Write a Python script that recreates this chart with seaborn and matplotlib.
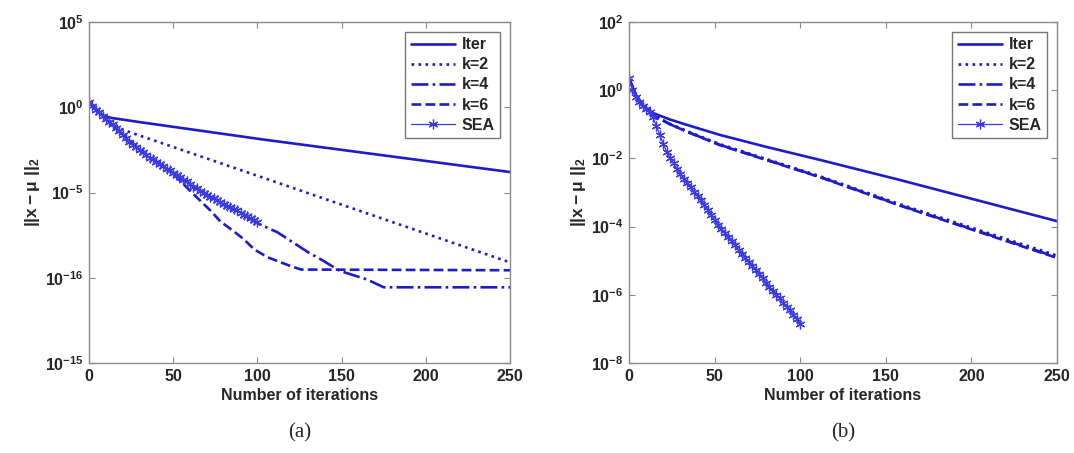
import numpy as np
import matplotlib
matplotlib.use("Agg")
import matplotlib.pyplot as plt
import seaborn as sns

# ---- data (log10 of ||x - mu||_2) ----
# panel (a)
a_iter_x = [0, 3, 6, 9, 13, 30, 104, 250]
a_iter_y = [0.30, 0.0, -0.3, -0.5, -0.62, -0.87, -1.9, -3.8]

a_k2_x = [0, 4, 8, 12, 20, 103, 250]
a_k2_y = [0.30, -0.15, -0.5, -0.8, -1.32, -4.12, -9.1]

a_k4_x = [0, 10, 20, 30, 40, 50, 60, 70, 80, 90, 100, 112, 130, 139, 149, 165, 175, 250]
a_k4_y = [0.30, -0.68, -1.6, -2.5, -3.2, -3.85, -4.5, -5.15, -5.7, -6.2, -6.8,
          -7.34, -8.5, -9.0, -9.6, -10.1, -10.56, -10.56]

a_k6_x = [0, 10, 20, 30, 40, 48, 52, 61, 72, 78, 86, 92, 98, 106, 114, 120, 126, 250]
a_k6_y = [0.30, -0.68, -1.6, -2.5, -3.2, -3.75, -4.1, -5.0, -6.05, -6.7, -7.28,
          -7.75, -8.33, -8.8, -9.1, -9.33, -9.52, -9.56]

a_sea_x = list(range(0, 101, 2))
a_sea_y = [0.30, 0.05, -0.15, -0.30, -0.50, -0.68, -0.85, -1.00, -1.20, -1.40,
           -1.60, -1.80, -2.05, -2.20, -2.35, -2.50, -2.65, -2.80, -2.95, -3.05,
           -3.20, -3.30, -3.45, -3.60, -3.70, -3.85, -3.95, -4.10, -4.25, -4.35,
           -4.50, -4.65, -4.75, -4.90, -5.05, -5.15, -5.25, -5.35, -5.45, -5.55,
           -5.70, -5.80, -5.85, -5.95, -6.05, -6.20, -6.30, -6.40, -6.50, -6.60,
           -6.75]

# panel (b)
b_iter_x = [0, 4, 8, 14, 24, 34, 53, 80, 112, 158, 250]
b_iter_y = [0.35, -0.15, -0.45, -0.67, -0.86, -1.02, -1.31, -1.66, -2.05, -2.63, -3.84]

b_k2_x = [0, 4, 8, 14, 24, 34, 53, 112, 158, 250]
b_k2_y = [0.35, -0.15, -0.45, -0.73, -0.99, -1.20, -1.58, -2.53, -3.34, -4.85]

b_k4_x = [0, 4, 8, 14, 24, 34, 53, 112, 158, 250]
b_k4_y = [0.35, -0.15, -0.45, -0.73, -1.00, -1.22, -1.60, -2.55, -3.37, -4.90]

b_k6_x = [0, 4, 8, 14, 24, 34, 53, 112, 158, 250]
b_k6_y = [0.35, -0.15, -0.45, -0.73, -1.00, -1.22, -1.61, -2.56, -3.38, -4.92]

b_sea_x = list(range(0, 101, 2))
b_sea_y = [0.35, 0.00, -0.20, -0.35, -0.45, -0.55, -0.65, -0.80, -1.05, -1.32,
           -1.58, -1.80, -1.98, -2.14, -2.30, -2.45, -2.60, -2.72, -2.85, -2.98,
           -3.10, -3.22, -3.38, -3.50, -3.65, -3.80, -3.95, -4.08, -4.20, -4.30,
           -4.42, -4.55, -4.68, -4.80, -4.92, -5.05, -5.15, -5.28, -5.40, -5.52,
           -5.65, -5.78, -5.90, -6.00, -6.10, -6.25, -6.35, -6.45, -6.60, -6.72,
           -6.85]

x_ticks = [0, 50, 100, 150, 200, 250]
a_yticks = [5, 0, -5, -10, -15]
a_ylabels = ["5", "0", "-5", "-16", "-15"]   # as printed in the original
b_yticks = [2, 0, -2, -4, -6, -8]
b_ylabels = ["2", "0", "-2", "-4", "-6", "-8"]

# ---- style ----
sns.set_style("ticks")
plt.rcParams["font.family"] = ["Liberation Sans", "DejaVu Sans"]
plt.rcParams["font.weight"] = "bold"
plt.rcParams["mathtext.fontset"] = "custom"
plt.rcParams["mathtext.rm"] = "Liberation Sans"
plt.rcParams["mathtext.bf"] = "Liberation Sans:bold"
plt.rcParams["mathtext.it"] = "Liberation Sans:italic"

blue = "#1c1cc8"
sea_blue = "#3a3ae6"
grey = "#8a8a8a"

fig = plt.figure(figsize=(10.74, 4.53), dpi=100)
ax_a = fig.add_axes([0.0829, 0.1987, 0.3920, 0.7527])
ax_b = fig.add_axes([0.5857, 0.1987, 0.3985, 0.7527])


def draw_panel(ax, series, yticks, ylabels, ylim):
    for xs, ys, label, ls in series:
        if label == "SEA":
            sns.lineplot(x=xs, y=10.0 ** np.array(ys), ax=ax, color=sea_blue,
                         linewidth=0.9, marker=(6, 2, 0), markersize=7,
                         markeredgecolor=sea_blue, markeredgewidth=0.9,
                         label=label, estimator=None, sort=False)
        else:
            sns.lineplot(x=xs, y=10.0 ** np.array(ys), ax=ax, color=blue,
                         linewidth=1.9, linestyle=ls, label=label,
                         estimator=None, sort=False)
    ax.set_yscale("log")
    ax.set_xlim(0, 250)
    ax.set_ylim(10.0 ** ylim[0], 10.0 ** ylim[1])
    ax.set_xticks(x_ticks)
    ax.set_xticklabels([str(t) for t in x_ticks])
    ax.set_yticks([10.0 ** t for t in yticks])
    ax.set_yticklabels([r"$\mathbf{10^{%s}}$" % l for l in ylabels])
    ax.yaxis.set_minor_locator(matplotlib.ticker.NullLocator())
    ax.tick_params(direction="in", length=4, width=0.8, color=grey,
                   top=True, right=True, labelsize=11.5, pad=4)
    for sp in ax.spines.values():
        sp.set_visible(True)
        sp.set_color(grey)
        sp.set_linewidth(1.0)
    ax.set_xlabel("Number of iterations", fontsize=11.5, fontweight="bold", labelpad=3)
    ax.set_ylabel(r"$\mathbf{||x - }\mathrm{\mu}\mathbf{\ ||_2}$", fontsize=12.5, labelpad=2)
    leg = ax.legend(loc="upper right", fontsize=11.5, frameon=True, fancybox=False,
                    borderaxespad=0.6, handlelength=2.8, handletextpad=0.4,
                    labelspacing=0.32, borderpad=0.35)
    leg.get_frame().set_edgecolor("#555555")
    leg.get_frame().set_linewidth(1.0)
    for t in leg.get_texts():
        t.set_fontweight("bold")


draw_panel(ax_a, [(a_iter_x, a_iter_y, "Iter", "-"),
                  (a_k2_x, a_k2_y, "k=2", ":"),
                  (a_k4_x, a_k4_y, "k=4", "-."),
                  (a_k6_x, a_k6_y, "k=6", "--"),
                  (a_sea_x, a_sea_y, "SEA", "-")],
           a_yticks, a_ylabels, (-15, 5))
draw_panel(ax_b, [(b_iter_x, b_iter_y, "Iter", "-"),
                  (b_k2_x, b_k2_y, "k=2", ":"),
                  (b_k4_x, b_k4_y, "k=4", "-."),
                  (b_k6_x, b_k6_y, "k=6", "--"),
                  (b_sea_x, b_sea_y, "SEA", "-")],
           b_yticks, b_ylabels, (-8, 2))

fig.text(0.2790, 0.045, "(a)", ha="center", va="center", fontsize=15,
         family="Liberation Serif", fontweight="normal")
fig.text(0.7850, 0.045, "(b)", ha="center", va="center", fontsize=15,
         family="Liberation Serif", fontweight="normal")

fig.savefig("out.png", dpi=100, facecolor="white")
